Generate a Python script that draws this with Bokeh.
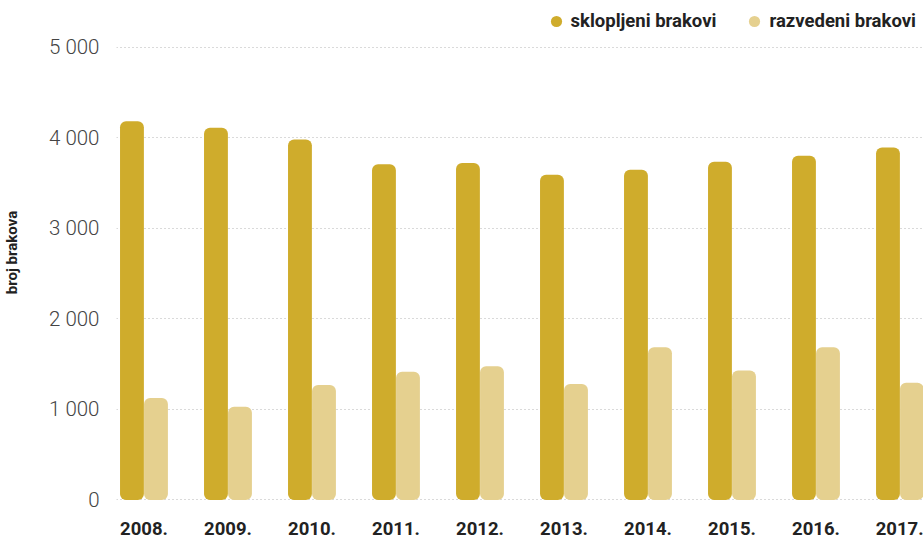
from bokeh.plotting import figure
from bokeh.models import Range1d, FixedTicker, Legend, LegendItem, ColumnDataSource
from bokeh.transform import dodge
from bokeh.embed import file_html
from bokeh.resources import INLINE

years = ["2008.", "2009.", "2010.", "2011.", "2012.", "2013.", "2014.", "2015.", "2016.", "2017."]
sklopljeni = [4180, 4110, 3980, 3705, 3720, 3590, 3645, 3735, 3800, 3890]
razvedeni = [1125, 1030, 1270, 1415, 1475, 1280, 1685, 1430, 1685, 1295]
y_ticks = [0, 1000, 2000, 3000, 4000, 5000]
y_tick_labels = ["0", "1 000", "2 000", "3 000", "4 000", "5 000"]
series_names = ["sklopljeni brakovi", "razvedeni brakovi"]
colors = ["#CFAC2C", "#E5D08F"]

idx = list(range(len(years)))
src = ColumnDataSource(dict(x=idx, s=sklopljeni, r=razvedeni))

# frame extends to the top of the page so the legend (drawn inside the frame) is visible
p = figure(width=923, height=540, output_backend="svg", toolbar_location=None,
           x_range=Range1d(-0.327, 9.28), y_range=Range1d(-50, 5514),
           min_border_left=116, min_border_right=0, min_border_top=0, min_border_bottom=36)
p.outline_line_color = None
p.background_fill_color = "white"

bw = 0.284
r1 = p.vbar(x=dodge("x", -0.143), top="s", bottom=0, width=bw, source=src,
            fill_color=colors[0], line_color=None, border_radius=6)
r2 = p.vbar(x=dodge("x", 0.143), top="r", bottom=0, width=bw, source=src,
            fill_color=colors[1], line_color=None, border_radius=6)

# legend marker renderers: a single point far outside the visible range
off = ColumnDataSource(dict(x=[-100], y=[-100000]))
m1 = p.scatter("x", "y", source=off, marker="circle", size=11, fill_color=colors[0], line_color=None)
m2 = p.scatter("x", "y", source=off, marker="circle", size=11, fill_color=colors[1], line_color=None)
legend = Legend(items=[LegendItem(label=series_names[0], renderers=[m1]),
                       LegendItem(label=series_names[1], renderers=[m2])],
                orientation="horizontal", location=(425.5, 469),
                label_text_font="Roboto", label_text_font_style="bold",
                label_text_font_size="18.5px", label_text_color="#222222",
                glyph_width=28, glyph_height=28, spacing=24, label_standoff=1,
                border_line_color=None, background_fill_alpha=0,
                padding=0, margin=0)
p.add_layout(legend, "center")

# grid
p.xgrid.grid_line_color = None
p.ygrid.ticker = FixedTicker(ticks=y_ticks)
p.ygrid.grid_line_color = "#b5b5b5"
p.ygrid.grid_line_dash = "1 3"
p.ygrid.grid_line_width = 1

# y axis
p.yaxis.ticker = FixedTicker(ticks=y_ticks)
p.yaxis.major_label_overrides = {t: l for t, l in zip(y_ticks, y_tick_labels)}
p.yaxis.axis_line_color = None
p.yaxis.major_tick_line_color = None
p.yaxis.minor_tick_line_color = None
p.yaxis.major_tick_out = 0
p.yaxis.major_tick_in = 0
p.yaxis.major_label_standoff = 17
p.yaxis.major_label_text_font = "'Roboto Light', Roboto"
p.yaxis.major_label_text_font_size = "20.5px"
p.yaxis.major_label_text_color = "#444444"
p.yaxis.axis_label = "broj brakova"
p.yaxis.axis_label_text_font = "Roboto"
p.yaxis.axis_label_text_font_style = "bold"
p.yaxis.axis_label_text_font_size = "15px"
p.yaxis.axis_label_text_color = "#222222"
p.yaxis.axis_label_standoff = 25

# x axis
p.xaxis.ticker = FixedTicker(ticks=idx)
p.xaxis.major_label_overrides = {i: y for i, y in zip(idx, years)}
p.xaxis.axis_line_color = None
p.xaxis.major_tick_line_color = None
p.xaxis.minor_tick_line_color = None
p.xaxis.major_tick_out = 0
p.xaxis.major_tick_in = 0
p.xaxis.major_label_standoff = 17
p.xaxis.major_label_text_font = "Roboto"
p.xaxis.major_label_text_font_style = "bold"
p.xaxis.major_label_text_font_size = "18.5px"
p.xaxis.major_label_text_color = "#222222"

open("out.html", "w").write(file_html(p, INLINE))
